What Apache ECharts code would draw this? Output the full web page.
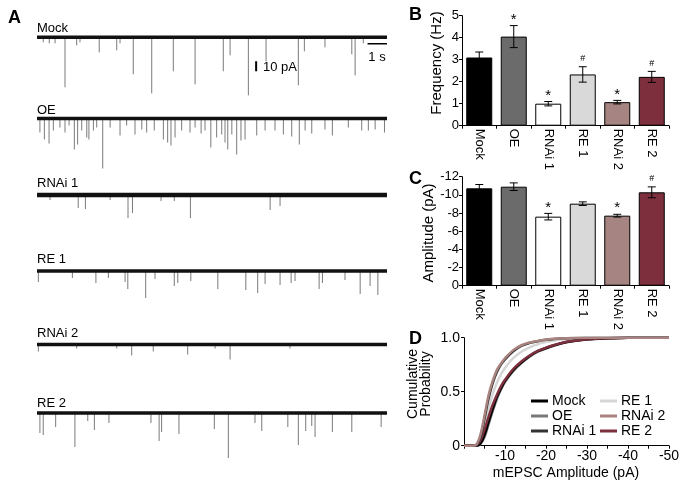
<!DOCTYPE html>
<html><head><meta charset="utf-8">
<script src="https://cdn.jsdelivr.net/npm/echarts@6/dist/echarts.min.js"></script>
<style>html,body{margin:0;padding:0;background:#fff}#c{width:683px;height:486px}</style>
</head><body><div id="c"></div><script>
const FONT = '"Liberation Sans", Arial, Helvetica, sans-serif';

// ---------- Panel A: example traces (spike time s, spike depth pA) ----------
const traceNames = ['Mock', 'OE', 'RNAi 1', 'RE 1', 'RNAi 2', 'RE 2'];
const traceDuration = 18; // s
const scaleBarTime = 1;   // s
const scaleBarAmp = 10;   // pA
const spikesMock = [[0.32,5],[0.63,6],[0.93,6],[1.44,50],[2.04,8],[2.21,5],[3.2,15],[4.1,13],[4.27,6],[4.95,37],[5.9,56],[7.01,34],[8.13,47],[9.58,34],[9.93,18],[10.87,58],[11.78,24],[13.44,48],[13.75,14],[14.81,10],[16.19,17],[16.36,38],[16.78,6]];
const spikesOE = [[0.15,14],[0.38,21],[0.62,25],[0.84,12],[1.18,9],[1.44,14],[1.65,7],[1.92,31],[2.09,26],[2.3,12],[2.56,19],[2.67,21],[2.9,12],[3.07,9],[3.38,50],[3.76,9],[4.27,17],[4.61,7],[5.04,16],[5.39,11],[5.64,14],[6.03,12],[6.5,21],[6.72,24],[6.89,27],[7.1,19],[7.44,12],[7.87,14],[8.13,9],[8.44,15],[8.64,12],[8.94,29],[9.24,19],[9.5,16],[9.67,24],[9.81,31],[10.02,16],[10.27,36],[10.49,22],[10.7,21],[11.3,17],[11.73,12],[12.24,12],[12.67,16],[13.1,18],[13.49,26],[13.79,12],[14.13,15],[14.81,11],[15.19,17],[16.01,9],[16.7,12],[17.04,12],[17.39,11],[17.87,14]];
const spikesRNAi1 = [[0.67,5],[2.12,13],[2.49,14],[3.76,5],[4.68,23],[4.91,18],[6.38,6],[7.06,6],[7.89,23],[11.99,15],[12.5,11]];
const spikesRE1 = [[0.07,11],[1.82,7],[3.03,12],[3.67,7],[4.53,11],[4.67,18],[5.59,27],[6.07,8],[7.06,15],[7.24,12],[7.91,10],[9.3,18],[10.74,19],[11.35,22],[11.73,13],[12.5,14],[13.07,12],[13.27,10],[14.51,18],[14.68,12],[15.84,9],[16.62,23],[17.13,15],[17.53,24]];
const spikesRNAi2 = [[0.07,7],[2.04,4],[4.1,4],[4.87,11],[5.98,7],[7.75,10],[9.16,4],[9.93,15],[13.01,4]];
const spikesRE2 = [[0.15,20],[0.32,22],[0.96,14],[1.95,34],[2.61,8],[2.95,17],[3.7,10],[5.86,10],[6.28,28],[6.41,19],[7.3,21],[9.12,16],[9.84,45],[11.21,10],[11.56,18],[12.9,14],[13.44,32],[13.82,18],[14.13,13],[14.3,24],[15.19,19],[16.19,19],[17.7,14]];
const traceSpikes = [spikesMock, spikesOE, spikesRNAi1, spikesRE1, spikesRNAi2, spikesRE2];

// ---------- Panels B, C ----------
const categories = ['Mock', 'OE', 'RNAi 1', 'RE 1', 'RNAi 2', 'RE 2'];
const freqMean = [3.1, 4.05, 1.0, 2.33, 1.07, 2.22];
const freqErr = [0.25, 0.5, 0.1, 0.35, 0.08, 0.25];
const freqSig = ['', '*', '*', '#', '*', '#'];
const ampMean = [-10.72, -10.9, -7.6, -9.03, -7.71, -10.28];
const ampErr = [0.42, 0.42, 0.36, 0.2, 0.15, 0.6];
const ampSig = ['', '', '*', '', '*', '#'];
const freqTicks = [0, 1, 2, 3, 4, 5];
const ampTicks = [0, -2, -4, -6, -8, -10, -12];

// ---------- Panel D: cumulative distributions ----------
const cdfAmplitude = [0, -2, -3, -4, -5, -6, -7, -8, -9, -10, -12, -14, -16, -18, -20, -22, -25, -30, -35, -40, -50];
const cdfMock  = [0, 0, 0, 0.02, 0.1, 0.22, 0.34, 0.45, 0.53, 0.6, 0.7, 0.77, 0.83, 0.875, 0.905, 0.93, 0.96, 0.985, 0.995, 1, 1];
const cdfOE    = [0, 0, 0, 0.015, 0.08, 0.2, 0.32, 0.43, 0.52, 0.59, 0.69, 0.765, 0.825, 0.87, 0.9, 0.927, 0.958, 0.984, 0.995, 1, 1];
const cdfRNAi1 = [0, 0, 0.005, 0.08, 0.25, 0.44, 0.58, 0.68, 0.75, 0.8, 0.875, 0.925, 0.952, 0.968, 0.98, 0.988, 0.995, 0.999, 1, 1, 1];
const cdfRE1   = [0, 0, 0, 0.04, 0.17, 0.34, 0.48, 0.58, 0.66, 0.72, 0.81, 0.87, 0.91, 0.94, 0.96, 0.975, 0.988, 0.997, 1, 1, 1];
const cdfRNAi2 = [0, 0, 0.01, 0.1, 0.28, 0.47, 0.6, 0.7, 0.76, 0.81, 0.885, 0.93, 0.955, 0.97, 0.982, 0.99, 0.996, 0.999, 1, 1, 1];
const cdfRE2   = [0, 0, 0.005, 0.05, 0.15, 0.27, 0.38, 0.47, 0.55, 0.61, 0.71, 0.78, 0.835, 0.878, 0.908, 0.932, 0.962, 0.986, 0.996, 1, 1];

// ---------- styles ----------
const barColors = ['#000000', '#6b6b6b', '#ffffff', '#d9d9d9', '#a58481', '#7e2f3e'];
const lineColors = {'Mock': '#000000', 'OE': '#787878', 'RNAi 1': '#333333', 'RE 1': '#d6d6d6', 'RNAi 2': '#a8837f', 'RE 2': '#7e2f3e'};
const cdfByName = {'Mock': cdfMock, 'OE': cdfOE, 'RNAi 1': cdfRNAi1, 'RE 1': cdfRE1, 'RNAi 2': cdfRNAi2, 'RE 2': cdfRE2};

const traceBaseY = [37.3, 118.5, 195, 271, 344.5, 413];
const traceLabelY = [28.5, 110, 183, 259.5, 333.5, 403];
const traceWidths = [3.5, 3.5, 4.5, 3.5, 3.5, 3.5];

const grids = [], xAxes = [], yAxes = [], series = [], graphics = [];

traceNames.forEach((nm, i) => {
  grids.push({left: 37, width: 350, top: traceBaseY[i] - 10, height: 70, outerBoundsMode: 'none'});
  xAxes.push({type: 'value', gridIndex: i, min: 0, max: traceDuration, show: false});
  yAxes.push({type: 'value', gridIndex: i, min: -60, max: 10, show: false});
  series.push({
    type: 'custom', xAxisIndex: i, yAxisIndex: i, data: traceSpikes[i], silent: true, z: 2,
    renderItem: (p, api) => {
      const t = api.value(0), d = api.value(1);
      const a = api.coord([t, 0]), b = api.coord([t, -d]);
      return {type: 'line', shape: {x1: a[0], y1: a[1], x2: b[0], y2: b[1]}, style: {stroke: '#7a7a7a', lineWidth: 1}};
    }
  });
  series.push({
    type: 'line', xAxisIndex: i, yAxisIndex: i, data: [[0, 0], [traceDuration, 0]], showSymbol: false, silent: true, z: 3,
    lineStyle: {color: '#111', width: traceWidths[i]}
  });
  graphics.push({type: 'text', x: 37, y: traceLabelY[i], style: {text: nm, fill: '#000', fontSize: 13, fontFamily: FONT, align: 'left', verticalAlign: 'middle'}});
});
// scale bars on the Mock trace
series.push({type: 'line', xAxisIndex: 0, yAxisIndex: 0, data: [[traceDuration - scaleBarTime, -6.5], [traceDuration, -6.5]], showSymbol: false, silent: true, lineStyle: {color: '#000', width: 1.5}});
series.push({type: 'line', xAxisIndex: 0, yAxisIndex: 0, data: [[11.27, -24], [11.27, -24 - scaleBarAmp]], showSymbol: false, silent: true, lineStyle: {color: '#000', width: 2}});
graphics.push({type: 'text', x: 377, y: 57, style: {text: '1 s', fill: '#000', fontSize: 13, fontFamily: FONT, align: 'center', verticalAlign: 'middle'}});
graphics.push({type: 'text', x: 263, y: 67, style: {text: '10 pA', fill: '#000', fontSize: 13, fontFamily: FONT, align: 'left', verticalAlign: 'middle'}});

// panel letters
[['A', 8, 18], ['B', 409, 15], ['C', 409, 179], ['D', 409, 339]].forEach(([t, x, y]) => {
  graphics.push({type: 'text', x, y, style: {text: t, fill: '#000', fontSize: 18, fontWeight: 'bold', fontFamily: FONT, align: 'left', verticalAlign: 'middle'}});
});

const axisBase = {
  axisLine: {show: true, lineStyle: {color: '#000', width: 1}},
  axisTick: {show: true, length: 3, inside: false, lineStyle: {color: '#000', width: 1}},
  splitLine: {show: false},
};

function barPanel(gi, top, height, mean, err, sig, yCfg, yTitle, titleX, titleY) {
  grids.push({left: 462, width: 207, top, height, outerBoundsMode: 'none'});
  xAxes.push(Object.assign({}, axisBase, {
    type: 'category', gridIndex: gi, data: categories,
    axisLabel: {rotate: -90, margin: 3, color: '#000', fontSize: 13, fontFamily: FONT, interval: 0}
  }));
  yAxes.push(Object.assign({}, axisBase, yCfg, {
    type: 'value', gridIndex: gi,
    axisLabel: {margin: 3, color: '#000', fontSize: 13, fontFamily: FONT}
  }));
  series.push({
    type: 'bar', xAxisIndex: gi, yAxisIndex: gi, barWidth: 26, silent: true,
    data: mean.map((v, i) => ({value: v, itemStyle: {color: barColors[i], borderColor: '#000', borderWidth: 1}}))
  });
  series.push({
    type: 'custom', xAxisIndex: gi, yAxisIndex: gi, silent: true, z: 5,
    data: mean.map((v, i) => [i, v, err[i]]),
    renderItem: (p, api) => {
      const i = api.value(0), m = api.value(1), e = api.value(2);
      const a = api.coord([i, m - e]), b = api.coord([i, m + e]);
      const st = {stroke: '#000', lineWidth: 1};
      return {type: 'group', children: [
        {type: 'line', shape: {x1: a[0], y1: a[1], x2: b[0], y2: b[1]}, style: st},
        {type: 'line', shape: {x1: a[0] - 4, y1: a[1], x2: a[0] + 4, y2: a[1]}, style: st},
        {type: 'line', shape: {x1: b[0] - 4, y1: b[1], x2: b[0] + 4, y2: b[1]}, style: st}
      ]};
    }
  });
  series.push({
    type: 'custom', xAxisIndex: gi, yAxisIndex: gi, silent: true, z: 6,
    data: mean.map((v, i) => [i, v, err[i]]),
    renderItem: (p, api) => {
      const i = api.value(0), m = api.value(1), e = api.value(2);
      const s = sig[i];
      if (!s) return null;
      const extreme = m >= 0 ? m + e : m - e;
      const c = api.coord([i, extreme]);
      const star = s === '*';
      return {type: 'text', x: c[0], y: c[1] - (star ? 6 : 8),
        style: {text: s, fill: '#000', fontSize: star ? 15 : 9, fontFamily: FONT, align: 'center', verticalAlign: 'middle'}};
    }
  });
  graphics.push({type: 'text', x: titleX, y: titleY, rotation: Math.PI / 2,
    style: {text: yTitle, fill: '#000', fontSize: 15, fontFamily: FONT, align: 'center', verticalAlign: 'middle'}});
}

barPanel(6, 15.7, 110, freqMean, freqErr, freqSig, {min: freqTicks[0], max: freqTicks[freqTicks.length - 1], interval: 1}, 'Frequency (Hz)', 437, 63);
barPanel(7, 176.7, 109, ampMean, ampErr, ampSig, {min: ampTicks[ampTicks.length - 1], max: ampTicks[0], interval: 2, inverse: true}, 'Amplitude (pA)', 429, 233);

// Panel D
grids.push({left: 464, width: 205, top: 337.7, height: 108, outerBoundsMode: 'none'});
xAxes.push(Object.assign({}, axisBase, {
  type: 'value', gridIndex: 8, min: -50, max: 0, interval: 5, inverse: true,
  axisLabel: {margin: 3, color: '#000', fontSize: 14, fontFamily: FONT, formatter: v => (v % 10 === 0 && v !== 0) ? String(v) : ''}
}));
yAxes.push(Object.assign({}, axisBase, {
  type: 'value', gridIndex: 8, min: 0, max: 1, interval: 0.5,
  axisLabel: {margin: 4, color: '#000', fontSize: 14, fontFamily: FONT, formatter: v => v === 0 ? '0' : v.toFixed(1)}
}));
['RE 1', 'OE', 'Mock', 'RE 2', 'RNAi 1', 'RNAi 2'].forEach(nm => {
  series.push({
    name: nm, type: 'line', xAxisIndex: 8, yAxisIndex: 8, smooth: 0.35, showSymbol: false, silent: true,
    data: cdfAmplitude.map((a, k) => [a, cdfByName[nm][k]]),
    itemStyle: {color: lineColors[nm]}, lineStyle: {color: lineColors[nm], width: 2.5}
  });
});
graphics.push({type: 'text', x: 413, y: 384, rotation: Math.PI / 2,
  style: {text: 'Cumulative', fill: '#000', fontSize: 14, fontFamily: FONT, align: 'center', verticalAlign: 'middle'}});
graphics.push({type: 'text', x: 426, y: 384, rotation: Math.PI / 2,
  style: {text: 'Probability', fill: '#000', fontSize: 14, fontFamily: FONT, align: 'center', verticalAlign: 'middle'}});
graphics.push({type: 'text', x: 566, y: 473,
  style: {text: 'mEPSC Amplitude (pA)', fill: '#000', fontSize: 14, fontFamily: FONT, align: 'center', verticalAlign: 'middle'}});

const legendBase = {orient: 'vertical', top: 394, padding: 0, icon: 'rect', itemWidth: 17, itemHeight: 3, itemGap: 1,
  selectedMode: false, textStyle: {color: '#000', fontSize: 14, fontFamily: FONT, lineHeight: 14, padding: [0, 0, 0, -1]}};

const chart = echarts.init(document.getElementById('c'), null, {renderer: 'canvas'});
chart.setOption({
  animation: false,
  backgroundColor: '#fff',
  textStyle: {fontFamily: FONT},
  grid: grids,
  xAxis: xAxes,
  yAxis: yAxes,
  legend: [
    Object.assign({}, legendBase, {left: 531, data: ['Mock', 'OE', 'RNAi 1']}),
    Object.assign({}, legendBase, {left: 600, data: ['RE 1', 'RNAi 2', 'RE 2']})
  ],
  series,
  graphic: graphics
});
</script></body></html>
